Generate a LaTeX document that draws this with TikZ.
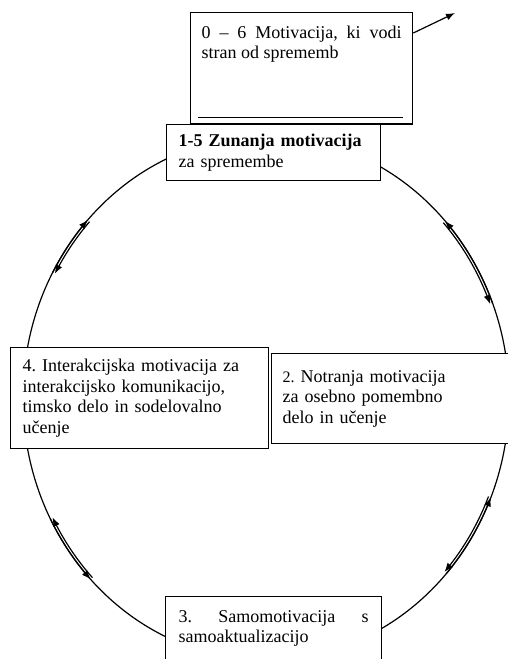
\documentclass[tikz,border=0pt]{standalone}
\usepackage{fontspec}
\setmainfont{Liberation Serif}
\frenchspacing
\usetikzlibrary{arrows.meta}
\newcommand\PairArc[2]{
  \draw[tip] plot[domain=#1:#2,samples=25] ({266+243*cos(\x)},{398+262*sin(\x)});
  \draw[tip] plot[domain=#2:#1,samples=25] ({266+240.5*cos(\x)},{398+259.5*sin(\x)});
}

\begin{document}
\begin{tikzpicture}[x=1pt,y=-1pt,line width=1.2pt,
  box/.style={draw,fill=white,anchor=north west,inner ysep=0pt,line width=1.3pt,
    font=\fontsize{18}{20.5}\selectfont},
  tip/.style={-{Latex[length=9pt,width=7pt]}}]
\useasboundingbox (0,0) rectangle (508,659);
% the cycle
\draw (266,398) ellipse [x radius=243pt,y radius=262pt];
\PairArc{208.6}{222.8}
\PairArc{-21.2}{-42.5}
\PairArc{152.6}{136.2}
\PairArc{42.1}{22.3}
% boxes
\node[box,inner xsep=11pt,inner ysep=13pt,text width=200pt,align=justify,text depth=73pt] (away) at (190,12)
  {0 -- 6 Motivacija, ki vodi stran od sprememb};
\draw ([xshift=8pt,yshift=7pt]away.south west) -- ([xshift=-10pt,yshift=7pt]away.south east);
\coordinate (exit) at (455,13);
\draw[tip] ([yshift=-21pt]away.north east) -- (exit);
\node[box,inner xsep=12pt,text width=190pt,minimum height=56pt,align=left] (extr) at (166,124)
  {\textbf{1-5 Zunanja motivacija}\\za spremembe};
\node[box,inner xsep=12pt,text width=234pt,minimum height=101pt,align=left] (inter) at (10,347)
  {4. Interakcijska motivacija za\\interakcijsko komunikacijo,\\timsko delo in sodelovalno\\učenje};
\node[box,inner xsep=11pt,text width=220pt,minimum height=90pt,align=left] (intr) at (271,353)
  {{\fontsize{16}{20.5}\selectfont 2.} Notranja motivacija\\za osebno pomembno\\delo in učenje};
\node[box,inner xsep=13pt,text width=190pt,minimum height=64pt,align=justify] (self) at (165,596)
  {3. Samomotivacija s samoaktualizacijo};
\end{tikzpicture}
\end{document}
